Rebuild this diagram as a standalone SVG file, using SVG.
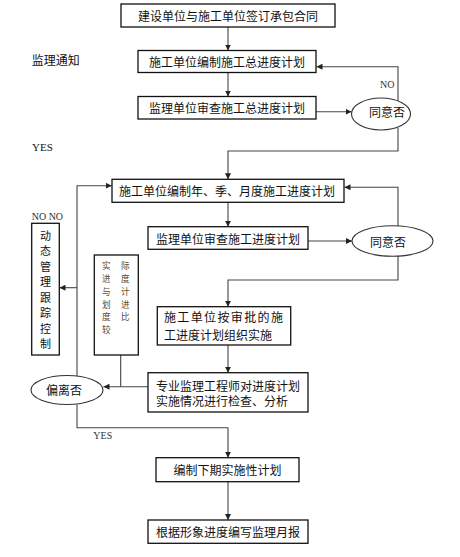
<svg xmlns="http://www.w3.org/2000/svg" width="460" height="557" viewBox="0 0 460 557">
<defs>
<marker id="ah" markerUnits="userSpaceOnUse" markerWidth="7" markerHeight="6" refX="6" refY="3" orient="auto">
<path d="M0,0 L6,3 L0,6 z" fill="#222"/>
</marker>
<style>
.box{fill:#fff;stroke:#111;stroke-width:1.3}
.ell{fill:#fff;stroke:#333;stroke-width:1.1}
.ln{fill:none;stroke:#444;stroke-width:1.1}
.ar{fill:none;stroke:#444;stroke-width:1.1;marker-end:url(#ah)}
.t{font-family:"Noto Sans CJK SC","Liberation Sans",sans-serif;font-size:12px;fill:#111;dominant-baseline:central}
.c{text-anchor:middle}
.dv{font-family:"Noto Sans CJK SC","Liberation Sans",sans-serif;font-size:11px;fill:#111;text-anchor:middle;dominant-baseline:central}
.lat{font-family:"Liberation Serif",serif;font-size:10px;fill:#333}
.vt{font-family:"Noto Sans CJK SC","Liberation Sans",sans-serif;font-size:8.6px;fill:#5c4a30;text-anchor:middle;dominant-baseline:central}
</style>
</defs>
<rect width="460" height="557" fill="#fff"/>

<g id="connectors">
<line class="ar" x1="228" y1="27" x2="228" y2="50.5"/>
<line class="ar" x1="228" y1="72.5" x2="228" y2="96.5"/>
<line class="ar" x1="316" y1="111.7" x2="351.5" y2="111.7"/>
<polyline class="ar" points="398,101 398,66.7 316.5,66.7"/>
<polyline class="ar" points="398,128 398,151 228,151 228,179.3"/>
<line class="ar" x1="228" y1="202.3" x2="228" y2="226.7"/>
<line class="ar" x1="308" y1="241" x2="352" y2="241"/>
<polyline class="ar" points="398,226.5 398,187.3 344.5,187.3"/>
<polyline class="ar" points="398,255.5 398,280 228,280 228,306.7"/>
<line class="ar" x1="228" y1="345" x2="228" y2="372.7"/>
<line class="ar" x1="148" y1="386.7" x2="103.5" y2="386.7"/>
<line class="ln" x1="120.7" y1="355" x2="120.7" y2="386.7"/>
<polyline class="ar" points="77,376 77,185.7 111.7,185.7"/>
<line class="ar" x1="77" y1="287.7" x2="59.5" y2="287.7"/>
<polyline class="ar" points="77,404.5 77,427.7 228,427.7 228,457.7"/>
<line class="ar" x1="228" y1="481.7" x2="228" y2="520"/>
</g>

<g id="labels">
<text class="t" x="31.7" y="59">监理通知</text>
<text class="lat" x="32" y="151" style="font-size:11px;fill:#111">YES</text>
<text class="lat" x="380" y="88">NO</text>
<text class="lat" x="31.7" y="220">NO NO</text>
<text class="lat" x="93.3" y="438.5">YES</text>
</g>

<g id="n1">
<rect class="box" x="121" y="4" width="214" height="23"/>
<text class="t c" x="228" y="15.5">建设单位与施工单位签订承包合同</text>
</g>
<g id="n2">
<rect class="box" x="138" y="50.5" width="178" height="22"/>
<text class="t c" x="227" y="61.5">施工单位编制施工总进度计划</text>
</g>
<g id="n3">
<rect class="box" x="138" y="96.5" width="178" height="22.5"/>
<text class="t c" x="227" y="107.5">监理单位审查施工总进度计划</text>
</g>
<g id="d1">
<ellipse class="ell" cx="381" cy="114" rx="29.5" ry="16"/>
<text class="t c" x="387" y="111">同意否</text>
</g>
<g id="n4">
<rect class="box" x="112" y="179.3" width="232" height="23"/>
<text class="t c" x="227" y="190.8">施工单位编制年、季、月度施工进度计划</text>
</g>
<g id="n5">
<rect class="box" x="148" y="226.7" width="160" height="22.6"/>
<text class="t c" x="228" y="238.2">监理单位审查施工进度计划</text>
</g>
<g id="d2">
<ellipse class="ell" cx="392.5" cy="241" rx="40.5" ry="15.3"/>
<text class="t c" x="388" y="241">同意否</text>
</g>
<g id="n6">
<rect class="box" x="157.3" y="306.7" width="133.4" height="38.3"/>
<text class="t" x="164" y="316.7" textLength="119" lengthAdjust="spacing">施工单位按审批的施</text>
<text class="t" x="164" y="334">工进度计划组织实施</text>
</g>
<g id="n7">
<rect class="box" x="148" y="372.7" width="160" height="39.3"/>
<text class="t" x="156" y="385">专业监理工程师对进度计划</text>
<text class="t" x="156" y="400.7">实施情况进行检查、分析</text>
</g>
<g id="d3">
<ellipse class="ell" cx="67" cy="390" rx="36" ry="14.5"/>
<text class="t c" x="64" y="389">偏离否</text>
</g>
<g id="n8">
<rect class="box" x="156" y="457.7" width="143" height="24"/>
<text class="t c" x="227.5" y="469.7">编制下期实施性计划</text>
</g>
<g id="n9">
<rect class="box" x="148" y="520" width="160" height="23.3"/>
<text class="t c" x="228" y="531.7">根据形象进度编写监理月报</text>
</g>
<g id="n10">
<rect class="box" x="31.7" y="223.3" width="27.6" height="131.7"/>
<text class="dv" x="45.5" y="235">动</text>
<text class="dv" x="45.5" y="250.4">态</text>
<text class="dv" x="45.5" y="265.9">管</text>
<text class="dv" x="45.5" y="281.3">理</text>
<text class="dv" x="45.5" y="296.7">跟</text>
<text class="dv" x="45.5" y="312.1">踪</text>
<text class="dv" x="45.5" y="327.6">控</text>
<text class="dv" x="45.5" y="343">制</text>
</g>
<g id="n11">
<rect class="box" x="94.3" y="255" width="44" height="100"/>
<text class="vt" x="106.3" y="265.3">实</text>
<text class="vt" x="125.3" y="265.3">际</text>
<text class="vt" x="106.3" y="278">进</text>
<text class="vt" x="125.3" y="278">度</text>
<text class="vt" x="106.3" y="291">与</text>
<text class="vt" x="125.3" y="291">计</text>
<text class="vt" x="106.3" y="303.7">划</text>
<text class="vt" x="125.3" y="303.7">进</text>
<text class="vt" x="106.3" y="316.3">度</text>
<text class="vt" x="125.3" y="316.3">比</text>
<text class="vt" x="106.3" y="329.3">较</text>
</g>
</svg>
